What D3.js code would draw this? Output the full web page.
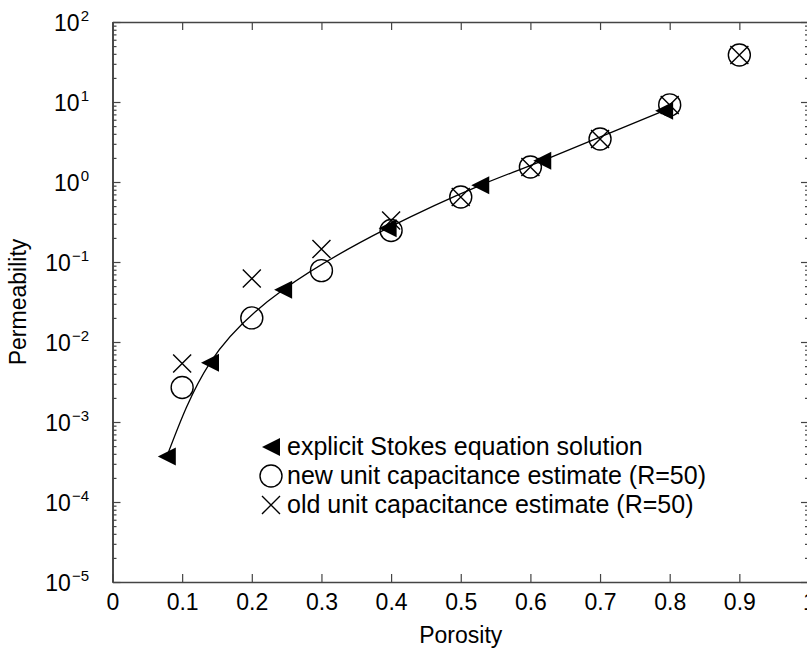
<!DOCTYPE html>
<html>
    <head>
        <meta charset="utf-8">
        <style>
          body { margin: 0; background: #fff; }
          text { font-family: 'Liberation Sans', Arial, sans-serif; fill: #000; }
        </style>
    </head>
    <body>
        <script src="https://d3js.org/d3.v7.min.js"></script>
        <script>
          // explicit Stokes equation solution
          const stokesX = [0.078, 0.14, 0.245, 0.395, 0.528, 0.617, 0.792];
          const stokesY = [3.7e-4, 5.5e-3, 0.045, 0.265, 0.91, 1.84, 7.8];
          // unit capacitance estimates (R=50)
          const estX = [0.1, 0.2, 0.3, 0.4, 0.5, 0.6, 0.7, 0.8, 0.9];
          const newY = [2.7e-3, 0.020, 0.078, 0.248, 0.65, 1.54, 3.45, 9.2, 38.7];
          const oldY = [5.4e-3, 0.062, 0.145, 0.33, 0.65, 1.54, 3.45, 9.2, 38.7];

          const xTicks = [0, 0.1, 0.2, 0.3, 0.4, 0.5, 0.6, 0.7, 0.8, 0.9, 1];
          const xTickLabels = ['0', '0.1', '0.2', '0.3', '0.4', '0.5', '0.6', '0.7', '0.8', '0.9', '1'];
          const yExponents = [-5, -4, -3, -2, -1, 0, 1, 2];
          const legendLabels = [
            'explicit Stokes equation solution',
            'new unit capacitance estimate (R=50)',
            'old unit capacitance estimate (R=50)'
          ];

          const width = 807, height = 652;
          const plot = { left: 112.5, right: 809, top: 22, bottom: 582 };

          const svg = d3.select('body').append('svg')
            .attr('width', width)
            .attr('height', height);

          const xScale = d3.scaleLinear()
            .domain([0, 1])
            .range([plot.left, plot.right]);

          const yScale = d3.scaleLog()
            .domain([1e-5, 1e2])
            .range([plot.bottom, plot.top]);

          const majorY = yExponents.map(e => Math.pow(10, e));
          const minorY = [];
          yExponents.slice(0, -1).forEach(e => {
            for (let m = 2; m <= 9; m++) minorY.push(m * Math.pow(10, e));
          });

          const axisColor = '#444';

          function styleAxis(g) {
            g.select('.domain').attr('stroke', axisColor).attr('stroke-width', 1.6);
            g.selectAll('.tick line').attr('stroke', axisColor).attr('stroke-width', 1.2);
          }

          // bottom
          svg.append('g')
            .attr('transform', `translate(0,${plot.bottom})`)
            .call(d3.axisBottom(xScale).tickValues(xTicks)
              .tickFormat((d, i) => xTickLabels[i])
              .tickSize(-8).tickSizeOuter(0).tickPadding(12))
            .call(styleAxis)
            .call(g => g.selectAll('text')
              .attr('font-size', 23)
              .attr('font-family', "'Liberation Sans', Arial, sans-serif")
              .attr('fill', '#000'));

          // top
          svg.append('g')
            .attr('transform', `translate(0,${plot.top})`)
            .call(d3.axisTop(xScale).tickValues(xTicks).tickFormat('')
              .tickSize(-8).tickSizeOuter(0))
            .call(styleAxis);

          // left minor + major
          svg.append('g')
            .attr('transform', `translate(${plot.left},0)`)
            .call(d3.axisLeft(yScale).tickValues(minorY).tickFormat('')
              .tickSize(-4).tickSizeOuter(0))
            .call(styleAxis);

          svg.append('g')
            .attr('transform', `translate(${plot.left},0)`)
            .call(d3.axisLeft(yScale).tickValues(majorY).tickFormat('')
              .tickSize(-8).tickSizeOuter(0))
            .call(styleAxis);

          // right minor + major
          svg.append('g')
            .attr('transform', `translate(${plot.right},0)`)
            .call(d3.axisRight(yScale).tickValues(minorY).tickFormat('')
              .tickSize(-4).tickSizeOuter(0))
            .call(styleAxis);
          svg.append('g')
            .attr('transform', `translate(${plot.right},0)`)
            .call(d3.axisRight(yScale).tickValues(majorY).tickFormat('')
              .tickSize(-8).tickSizeOuter(0))
            .call(styleAxis);

          // y tick labels 10^n
          const yLabels = svg.append('g')
            .selectAll('text')
            .data(yExponents)
            .join('text')
            .attr('x', 89)
            .attr('y', d => yScale(Math.pow(10, d)) + 8.5)
            .attr('text-anchor', 'end')
            .attr('font-size', 23);
          yLabels.append('tspan').text('10');
          yLabels.append('tspan')
            .attr('font-size', 15)
            .attr('dy', -10)
            .attr('dx', 1)
            .text(d => String(d).replace('-', '\u2212'));

          // axis titles
          svg.append('text')
            .attr('x', (plot.left + plot.right) / 2)
            .attr('y', 643)
            .attr('text-anchor', 'middle')
            .attr('font-size', 23)
            .text('Porosity');

          svg.append('text')
            .attr('transform', `translate(25.5,${(plot.top + plot.bottom) / 2}) rotate(-90)`)
            .attr('text-anchor', 'middle')
            .attr('font-size', 23)
            .text('Permeability');

          // fitted curve through Stokes points
          const stokes = stokesX.map((x, i) => ({ x, y: stokesY[i] }));
          const line = d3.line()
            .x(d => xScale(d.x))
            .y(d => yScale(d.y))
            .curve(d3.curveNatural);

          svg.append('path')
            .datum(stokes)
            .attr('d', line)
            .attr('fill', 'none')
            .attr('stroke', '#000')
            .attr('stroke-width', 1.3);

          const triPath = 'M-9,0L9,-9L9,9Z';
          const crossPath = 'M-9,-9L9,9M-9,9L9,-9';

          // new estimate: circles
          svg.append('g')
            .selectAll('circle')
            .data(estX.map((x, i) => ({ x, y: newY[i] })))
            .join('circle')
            .attr('cx', d => xScale(d.x))
            .attr('cy', d => yScale(d.y))
            .attr('r', 11)
            .attr('fill', 'none')
            .attr('stroke', '#000')
            .attr('stroke-width', 1.4);

          // old estimate: crosses
          svg.append('g')
            .selectAll('path')
            .data(estX.map((x, i) => ({ x, y: oldY[i] })))
            .join('path')
            .attr('transform', d => `translate(${xScale(d.x)},${yScale(d.y)})`)
            .attr('d', crossPath)
            .attr('fill', 'none')
            .attr('stroke', '#000')
            .attr('stroke-width', 1.4);

          // Stokes: filled left triangles
          svg.append('g')
            .selectAll('path')
            .data(stokes)
            .join('path')
            .attr('transform', d => `translate(${xScale(d.x)},${yScale(d.y)})`)
            .attr('d', triPath)
            .attr('fill', '#000');

          // legend
          const legend = svg.append('g')
            .selectAll('g')
            .data(legendLabels)
            .join('g')
            .attr('transform', (d, i) => `translate(271,${447 + i * 29})`);

          legend.append('text')
            .attr('x', 16)
            .attr('y', 8)
            .attr('font-size', 25)
            .text(d => d);

          legend.filter((d, i) => i === 0).append('path')
            .attr('d', triPath).attr('fill', '#000');
          legend.filter((d, i) => i === 1).append('circle')
            .attr('r', 11).attr('fill', 'none')
            .attr('stroke', '#000').attr('stroke-width', 1.4);
          legend.filter((d, i) => i === 2).append('path')
            .attr('d', crossPath).attr('fill', 'none')
            .attr('stroke', '#000').attr('stroke-width', 1.4);
        </script>
    </body>
</html>
